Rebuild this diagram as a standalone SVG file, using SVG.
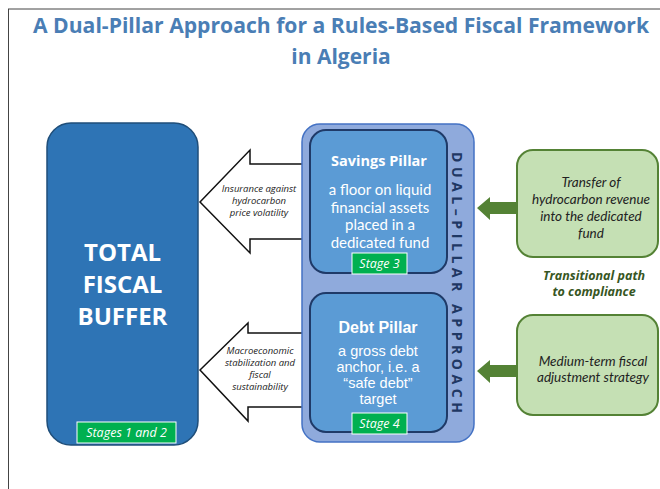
<svg xmlns="http://www.w3.org/2000/svg" width="660" height="489" viewBox="0 0 660 489">
<style>
.title{font-family:"Open Sans","Liberation Sans",sans-serif;font-weight:bold;font-size:21px;fill:#4a7eb5;text-anchor:middle}
.big{font-family:"Open Sans","Liberation Sans",sans-serif;font-weight:bold;font-size:24px;fill:#fff;text-anchor:middle}
.arrtxt{font-family:"Open Sans","Liberation Sans",sans-serif;font-style:italic;font-size:9.5px;fill:#222;text-anchor:middle}
.ptitle{font-family:"Open Sans","Liberation Sans",sans-serif;font-weight:bold;font-size:14.5px;fill:#fff;text-anchor:middle}
.pbody{font-family:"Lato","Open Sans",sans-serif;font-size:15px;fill:#fff;text-anchor:middle}
.dtitle{font-family:"Liberation Sans",Arial,sans-serif;font-weight:bold;font-size:16px;fill:#fff;text-anchor:middle}
.dbody{font-family:"Liberation Sans",Arial,sans-serif;font-size:14.5px;fill:#fff;text-anchor:middle}
.stage{fill:#00b050;stroke:#fff;stroke-width:1}
.stagetxt{font-family:"Open Sans","Liberation Sans",sans-serif;font-style:italic;font-size:12.5px;fill:#fff;text-anchor:middle}
.gbox{fill:#c5e0b4;stroke:#548235;stroke-width:2}
.gtxt{font-family:"Lato","Open Sans",sans-serif;font-style:italic;font-size:13.5px;fill:#222;text-anchor:middle}
.trans{font-family:"Open Sans","Liberation Sans",sans-serif;font-style:italic;font-weight:bold;font-size:12.5px;fill:#375623;text-anchor:middle}
.warrow{fill:#fff;stroke:#111;stroke-width:1.5;stroke-linejoin:miter}
.garrow{fill:#548235;stroke:none}
.pillar{fill:#5b9bd5;stroke:#1f3a68;stroke-width:2}
</style>
<rect x="0" y="0" width="660" height="489" fill="#fff"/>
<g id="frame" stroke="#444" stroke-width="1" fill="none">
<line x1="8" y1="9" x2="660" y2="9"/>
<line x1="8.5" y1="9" x2="8.5" y2="489"/>
</g>
<g id="title">
<text class="title" x="341" y="33" textLength="616" lengthAdjust="spacingAndGlyphs">A Dual-Pillar Approach for a Rules-Based Fiscal Framework</text>
<text class="title" x="341" y="64">in Algeria</text>
</g>
<g id="connectors">
<polygon class="warrow" points="200,202 250,150 250,164 304,164 304,239 250,239 250,253"/>
<polygon class="warrow" points="200,370 248,323 248,333 304,333 304,407 248,407 248,421"/>
<polygon class="garrow" points="477,208 490,197 490,202 517,202 517,214 490,214 490,220"/>
<polygon class="garrow" points="477,371 490,360 490,365 517,365 517,377 490,377 490,383"/>
</g>
<g id="label-insurance">
<text class="arrtxt" x="259" y="192">Insurance against</text>
<text class="arrtxt" x="259" y="204">hydrocarbon</text>
<text class="arrtxt" x="259" y="216">price volatility</text>
</g>
<g id="label-macro">
<text class="arrtxt" x="260" y="354">Macroeconomic</text>
<text class="arrtxt" x="260" y="366">stabilization and</text>
<text class="arrtxt" x="260" y="378">fiscal</text>
<text class="arrtxt" x="260" y="390">sustainability</text>
</g>
<g id="total-fiscal-buffer">
<rect x="47" y="123" width="151" height="322" rx="24" fill="#2e74b5" stroke="#1f4e79" stroke-width="1.5"/>
<text class="big" x="122.5" y="261">TOTAL</text>
<text class="big" x="122.5" y="293">FISCAL</text>
<text class="big" x="122.5" y="325">BUFFER</text>
<rect class="stage" x="77" y="422" width="99" height="21"/>
<text class="stagetxt" x="126.5" y="437">Stages 1 and 2</text>
</g>
<g id="dual-pillar">
<rect x="302" y="124" width="172" height="318" rx="18" fill="#8faadc" stroke="#4472c4" stroke-width="1.5"/>
<text x="452" y="152" transform="rotate(90 452 152)" textLength="261" lengthAdjust="spacing" font-family="Open Sans, Liberation Sans, sans-serif" font-weight="bold" font-size="14" fill="#1f3864">DUAL–PILLAR APPROACH</text>
</g>
<g id="savings-pillar">
<rect class="pillar" x="310" y="130" width="137" height="143" rx="16"/>
<text class="ptitle" x="379" y="166">Savings Pillar</text>
<text class="pbody" x="380" y="195">a floor on liquid</text>
<text class="pbody" x="380" y="212.5">financial assets</text>
<text class="pbody" x="380" y="230">placed in a</text>
<text class="pbody" x="380" y="248">dedicated fund</text>
<rect class="stage" x="352" y="253" width="55" height="21"/>
<text class="stagetxt" x="379.5" y="268">Stage 3</text>
</g>
<g id="debt-pillar">
<rect class="pillar" x="310" y="293" width="137" height="139" rx="16"/>
<text class="dtitle" x="378" y="333">Debt Pillar</text>
<text class="dbody" x="378" y="356">a gross debt</text>
<text class="dbody" x="378" y="372">anchor, i.e. a</text>
<text class="dbody" x="378" y="388">“safe debt”</text>
<text class="dbody" x="378" y="404">target</text>
<rect class="stage" x="352" y="413" width="55" height="21"/>
<text class="stagetxt" x="379.5" y="428">Stage 4</text>
</g>
<g id="transfer-box">
<rect class="gbox" x="517" y="150" width="141" height="107" rx="16"/>
<text class="gtxt" x="591" y="187">Transfer of</text>
<text class="gtxt" x="591" y="204">hydrocarbon revenue</text>
<text class="gtxt" x="591" y="221">into the dedicated</text>
<text class="gtxt" x="591" y="238">fund</text>
</g>
<g id="transitional-label">
<text class="trans" x="594" y="280">Transitional path</text>
<text class="trans" x="594" y="296">to compliance</text>
</g>
<g id="medium-term-box">
<rect class="gbox" x="517" y="315" width="141" height="100" rx="16"/>
<text class="gtxt" x="593" y="366">Medium-term fiscal</text>
<text class="gtxt" x="593" y="382">adjustment strategy</text>
</g>
</svg>
